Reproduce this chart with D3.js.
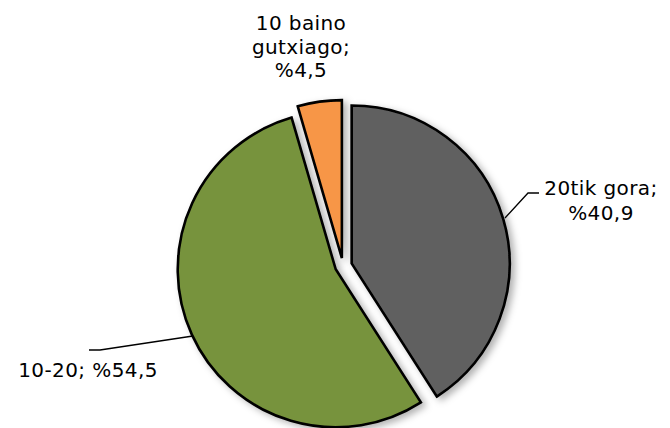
<!DOCTYPE html>
<html>
<head>
<meta charset="utf-8">
<script src="https://cdn.jsdelivr.net/npm/d3@7/dist/d3.min.js"></script>
<style>
  html, body { margin: 0; padding: 0; background: #fff; }
  svg { display: block; }
  text { font-family: Verdana, "DejaVu Sans", sans-serif; font-size: 20px; letter-spacing: 0.4px; fill: #000; }
</style>
</head>
<body>
<svg id="chart" width="670" height="428"></svg>
<script>
const categories = ["20tik gora", "10-20", "10 baino gutxiago"];
const values = [40.9, 54.5, 4.5];
const valueLabels = ["%40,9", "%54,5", "%4,5"];
const colors = ["#606060", "#77933C", "#F79646"];

const W = 670, H = 428;
const cx = 343, cy = 266, R = 158;
const explode = [9, 8, 8];

const svg = d3.select("#chart");
const defs = svg.append("defs");
const f = defs.append("filter").attr("id", "sh").attr("x", "-20%").attr("y", "-20%").attr("width", "150%").attr("height", "150%");
f.append("feDropShadow").attr("dx", 4).attr("dy", 3).attr("stdDeviation", 3.5)
  .attr("flood-color", "#000").attr("flood-opacity", 0.3);

const pie = d3.pie().sort(null).value(d => d).startAngle(0).endAngle(2 * Math.PI);
const arcs = pie(values);
const arc = d3.arc().innerRadius(0).outerRadius(R);

const g = svg.append("g").attr("transform", `translate(${cx},${cy})`);
g.selectAll("path.slice").data(arcs).enter().append("path")
  .attr("class", "slice")
  .attr("d", arc)
  .attr("transform", (d, i) => {
    const a = (d.startAngle + d.endAngle) / 2;
    return `translate(${explode[i] * Math.sin(a)},${-explode[i] * Math.cos(a)})`;
  })
  .attr("fill", (d, i) => colors[i])
  .attr("stroke", "#000")
  .attr("stroke-width", 2.6)
  .attr("stroke-linejoin", "miter")
  .attr("filter", "url(#sh)");

// Leader lines
const leaders = [
  [[505, 218], [528, 193], [539, 193]],
  [[193, 336], [100, 350], [89, 350]]
];
svg.selectAll("path.leader").data(leaders).enter().append("path")
  .attr("class", "leader")
  .attr("d", d => d3.line()(d))
  .attr("fill", "none").attr("stroke", "#000").attr("stroke-width", 1.3);

// Labels
const labelLines = [
  [categories[0] + ";", valueLabels[0]],
  [categories[1] + "; " + valueLabels[1]],
  ["10 baino", "gutxiago;", valueLabels[2]]
];
const labelPos = [
  { x: 601, y: 195, lh: 25 },
  { x: 88, y: 377, lh: 24 },
  { x: 301, y: 30, lh: 23.5 }
];
labelLines.forEach((lines, i) => {
  const t = svg.append("text").attr("text-anchor", "middle")
    .attr("x", labelPos[i].x).attr("y", labelPos[i].y);
  lines.forEach((l, j) => {
    t.append("tspan").attr("x", labelPos[i].x).attr("dy", j === 0 ? 0 : labelPos[i].lh).text(l);
  });
});
</script>
</body>
</html>
